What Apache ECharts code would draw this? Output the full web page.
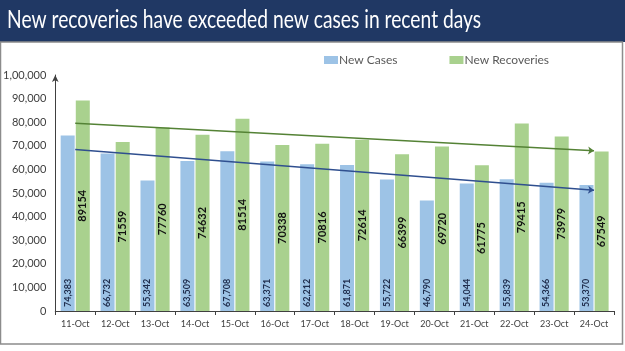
<!DOCTYPE html>
<html>
<head>
<meta charset="utf-8">
<script src="https://cdn.jsdelivr.net/npm/echarts@6/dist/echarts.min.js"></script>
<style>
  html, body { margin: 0; padding: 0; background: #fff; }
  #chart { width: 625px; height: 351px; }
</style>
</head>
<body>
<div id="chart"></div>
<script>
// data
const days = ['11-Oct', '12-Oct', '13-Oct', '14-Oct', '15-Oct', '16-Oct', '17-Oct',
  '18-Oct', '19-Oct', '20-Oct', '21-Oct', '22-Oct', '23-Oct', '24-Oct'];
const newCases = [74383, 66732, 55342, 63509, 67708, 63371, 62212,
  61871, 55722, 46790, 54044, 55839, 54366, 53370];
const newRecoveries = [89154, 71559, 77760, 74632, 81514, 70338, 70816,
  72614, 66399, 69720, 61775, 79415, 73979, 67549];
// trendline end points (start at first day, end at last day)
const casesTrend = [68400, 51200];
const recoveriesTrend = [79600, 67900];

// indian style grouping: 1,00,000
function inFmt(v) {
  const s = String(Math.round(v));
  if (s.length <= 3) return s;
  let last3 = s.slice(-3);
  let rest = s.slice(0, -3);
  rest = rest.replace(/\B(?=(\d{2})+(?!\d))/g, ',');
  return rest + ',' + last3;
}

const chart = echarts.init(document.getElementById('chart'));

const option = {
  animation: false,
  textStyle: { fontFamily: 'Lato, "Open Sans", sans-serif' },
  graphic: [
    { type: 'rect', shape: { x: 0, y: 0, width: 625, height: 42 }, style: { fill: '#203864' }, z: 0 },
    { type: 'rect', shape: { x: 0.5, y: 42, width: 622, height: 302 },
      style: { fill: '#fff', stroke: '#8c8c8c', lineWidth: 1.5 }, z: 0 },
    { type: 'text', x: 7, y: 7, scaleX: 0.77, z: 10,
      style: { text: 'New recoveries have exceeded new cases in recent days',
        fill: '#fff', font: '25px Lato, "Open Sans", sans-serif' } }
  ],
  legend: {
    left: 319, top: 49,
    itemWidth: 14, itemHeight: 8, itemGap: 52,
    icon: 'rect',
    data: ['New Cases', 'New Recoveries'],
    textStyle: { color: '#595959', fontSize: 12, padding: [0, 0, 0, -4] }
  },
  grid: { left: 51, right: 11, top: 75, bottom: 40 },
  xAxis: {
    type: 'category',
    data: days,
    axisLine: { lineStyle: { color: '#404040', width: 1 } },
    axisTick: { show: true, inside: false, length: 4, lineStyle: { color: '#404040' } },
    axisLabel: { color: '#404040', fontSize: 9, margin: 9, interval: 0 }
  },
  yAxis: {
    type: 'value',
    min: 0, max: 100000, interval: 10000,
    splitLine: { show: false },
    axisLine: { show: true, symbol: ['none', 'arrow'], symbolSize: [5, 7],
      lineStyle: { color: '#404040', width: 1 } },
    axisTick: { show: false },
    axisLabel: { color: '#404040', fontSize: 11, margin: 9, formatter: inFmt }
  },
  series: [
    {
      name: 'New Cases',
      type: 'bar',
      data: newCases,
      barWidth: 14,
      barGap: '8%',
      itemStyle: { color: '#9dc3e6' },
      label: {
        show: true, position: 'insideBottom', rotate: 90, align: 'left',
        verticalAlign: 'middle', distance: 4,
        color: '#1f2d4d', fontSize: 9, fontWeight: 'bold',
        formatter: p => p.value.toLocaleString('en-US')
      }
    },
    {
      name: 'New Recoveries',
      type: 'bar',
      data: newRecoveries,
      barWidth: 14,
      itemStyle: { color: '#a9d18e' },
      label: {
        show: true, position: 'inside', rotate: 90,
        color: '#111', fontSize: 11, fontWeight: 'bold'
      }
    },
    {
      name: 'Recoveries trend',
      type: 'line',
      data: [],
      markLine: {
        silent: true, symbol: ['none', 'arrow'], symbolSize: 6,
        label: { show: false },
        lineStyle: { color: '#548235', width: 1.5, type: 'solid' },
        data: [[{ coord: [days[0], recoveriesTrend[0]] }, { coord: [days[days.length - 1], recoveriesTrend[1]] }]]
      }
    },
    {
      name: 'Cases trend',
      type: 'line',
      data: [],
      markLine: {
        silent: true, symbol: ['none', 'arrow'], symbolSize: 6,
        label: { show: false },
        lineStyle: { color: '#2f4f8f', width: 1.5, type: 'solid' },
        data: [[{ coord: [days[0], casesTrend[0]] }, { coord: [days[days.length - 1], casesTrend[1]] }]]
      }
    }
  ]
};

chart.setOption(option);
</script>
</body>
</html>
